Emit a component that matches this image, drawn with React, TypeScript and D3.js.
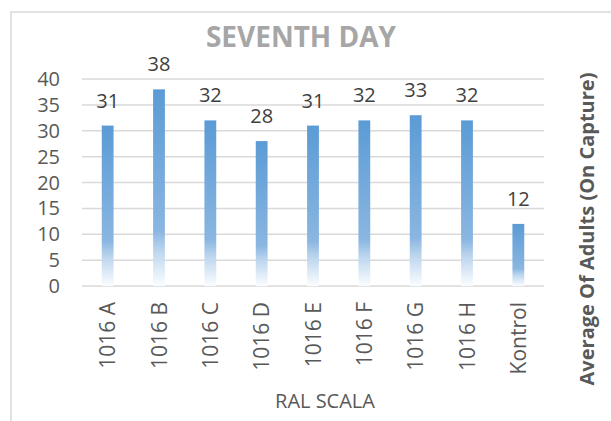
import React from "react";
import * as d3 from "d3";

const categories = ["1016 A", "1016 B", "1016 C", "1016 D", "1016 E", "1016 F", "1016 G", "1016 H", "Kontrol"];
const values = [31, 38, 32, 28, 31, 32, 33, 32, 12];
const yTicks = [0, 5, 10, 15, 20, 25, 30, 35, 40];
const chartTitle = "SEVENTH DAY";
const xTitle = "RAL SCALA";
const yTitle = "Average Of Adults (On Capture)";

const W = 611;
const H = 421;
const FONT = "'Open Sans', sans-serif";

export default function App() {
  const x = d3.scaleBand<string>().domain(categories).range([82, 544]).paddingInner(0.77).paddingOuter(0.385);
  const y = d3.scaleLinear().domain([0, 40]).range([286, 79]);

  return (
    <svg width={W} height={H} style={{ position: "absolute", left: 0, top: 0, background: "#fff" }}>
      <defs>
        <linearGradient id="barGrad" x1="0" y1="0" x2="0" y2="1">
          <stop offset="0" stopColor="#5B9BD5" />
          <stop offset="0.72" stopColor="#8AB6E1" />
          <stop offset="0.82" stopColor="#BCD5EE" />
          <stop offset="1" stopColor="#FBFDFF" />
        </linearGradient>
      </defs>
      <rect x={11} y={12} width={W} height={H} fill="#fff" stroke="#D9D9D9" strokeWidth={1.5} />
      <text x={301} y={47} textAnchor="middle" fontFamily={FONT} fontWeight="bold" fontSize={28} fill="#A6A6A6">
        {chartTitle}
      </text>
      {yTicks.map((t) => (
        <g key={t}>
          <line x1={82} x2={544} y1={y(t)} y2={y(t)} stroke="#D9D9D9" strokeWidth={1.5} />
          <text x={60} y={y(t)} dy="0.35em" textAnchor="end" fontFamily={FONT} fontSize={20} fill="#595959">
            {t}
          </text>
        </g>
      ))}
      {categories.map((c, i) => {
        const bx = x(c)!;
        const bw = x.bandwidth();
        const top = y(values[i]);
        return (
          <g key={c}>
            <rect x={bx} y={top} width={bw} height={y(0) - top} fill="url(#barGrad)" />
            <text x={bx + bw / 2} y={top - 18} textAnchor="middle" fontFamily={FONT} fontSize={20} fill="#404040">
              {values[i]}
            </text>
            <text
              transform={`translate(${bx + bw / 2 + 7.5},302) rotate(-90)`}
              textAnchor="end"
              fontFamily={FONT}
              fontSize={21}
              fill="#595959"
            >
              {c}
            </text>
          </g>
        );
      })}
      <text x={325} y={408} textAnchor="middle" fontFamily={FONT} fontSize={20} fill="#595959">
        {xTitle}
      </text>
      <text
        transform={`translate(594,229) rotate(-90)`}
        textAnchor="middle"
        fontFamily={FONT}
        fontWeight="bold"
        fontSize={20}
        fill="#595959"
      >
        {yTitle}
      </text>
    </svg>
  );
}
